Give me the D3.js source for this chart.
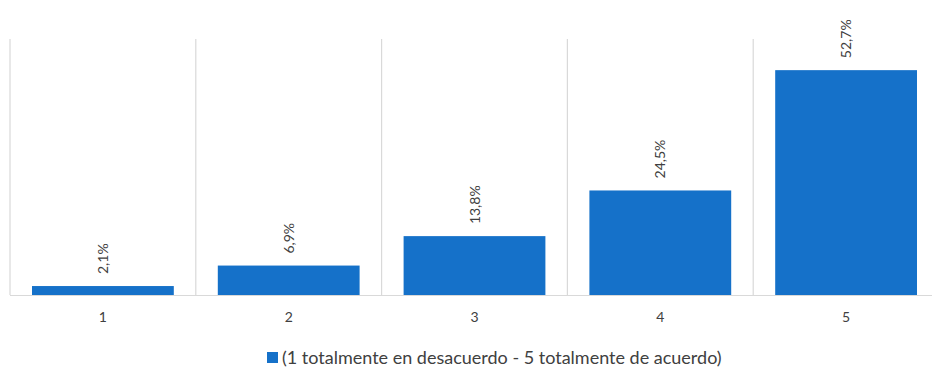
<!DOCTYPE html>
<html>
<head>
<meta charset="utf-8">
<script src="https://cdn.jsdelivr.net/npm/d3@7"></script>
<style>
  body { margin: 0; background: #fff; }
  svg { display: block; font-family: Lato, "Open Sans", sans-serif; }
</style>
</head>
<body>
<svg id="chart" width="932" height="368"></svg>
<script>
const categories = ["1", "2", "3", "4", "5"];
const values = [2.1, 6.9, 13.8, 24.5, 52.7];
const valueLabels = ["2,1%", "6,9%", "13,8%", "24,5%", "52,7%"];
const seriesName = "(1 totalmente en desacuerdo - 5 totalmente de acuerdo)";

const svg = d3.select("#chart");
const plot = { left: 10, right: 939, top: 39, bottom: 295 };

const x = d3.scaleBand().domain(categories).range([plot.left, plot.right]).paddingInner(0).paddingOuter(0);
const y = d3.scaleLinear().domain([0, 60]).range([plot.bottom, plot.top]);
const barPad = 22;

// vertical category separators
svg.append("g").selectAll("line")
  .data(categories)
  .join("line")
  .attr("x1", d => x(d)).attr("x2", d => x(d))
  .attr("y1", plot.top).attr("y2", plot.bottom)
  .attr("stroke", "#d9d9d9").attr("stroke-width", 1.2);

// bars
svg.append("g").selectAll("rect")
  .data(values)
  .join("rect")
  .attr("x", (d, i) => x(categories[i]) + barPad)
  .attr("width", x.bandwidth() - 2 * barPad)
  .attr("y", d => y(d))
  .attr("height", d => y(0) - y(d))
  .attr("fill", "#1571c9");

// baseline
svg.append("line")
  .attr("x1", plot.left).attr("x2", plot.right)
  .attr("y1", plot.bottom + 0.5).attr("y2", plot.bottom + 0.5)
  .attr("stroke", "#d9d9d9").attr("stroke-width", 1.2);

// value labels, rotated
svg.append("g").selectAll("text")
  .data(values)
  .join("text")
  .attr("transform", (d, i) => `translate(${x(categories[i]) + x.bandwidth() / 2 + 5},${y(d) - 12}) rotate(-90)`)
  .attr("text-anchor", "start")
  .attr("font-size", 14)
  .attr("fill", "#404040")
  .text((d, i) => valueLabels[i]);

// category axis
const xAxis = d3.axisBottom(x).tickSize(0).tickPadding(17);
const gx = svg.append("g").attr("transform", `translate(0,${plot.bottom})`).call(xAxis);
gx.select(".domain").remove();
gx.selectAll("text").attr("font-size", 14).attr("fill", "#404040").attr("font-family", "Lato, sans-serif");

// legend
const legend = svg.append("g").attr("transform", "translate(267,358)");
legend.append("rect").attr("x", 0).attr("y", -6).attr("width", 11).attr("height", 11).attr("fill", "#1571c9");
legend.append("text").attr("x", 15).attr("y", 0).attr("dy", "0.35em")
  .attr("font-size", 18).attr("fill", "#404040").text(seriesName);
</script>
</body>
</html>
